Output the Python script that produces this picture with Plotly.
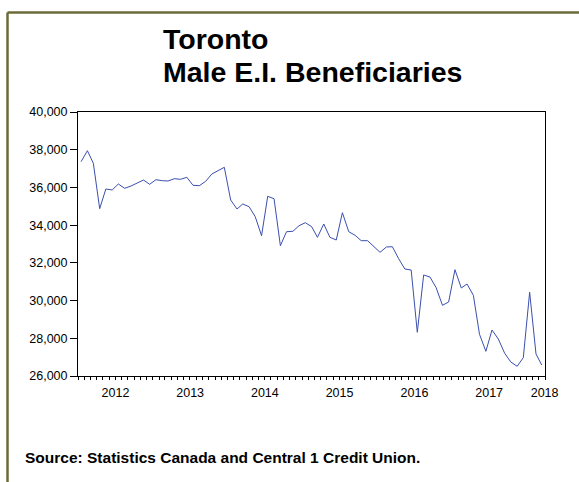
import pandas as pd
import plotly.graph_objects as go

# Monthly series, Jan 2012 - Mar 2018
start_month = "2012-01-01"
values = [
    37365, 37948, 37280, 34872, 35917, 35864, 36182, 35954, 36076, 36235, 36394, 36166,
    36410, 36357, 36341, 36463, 36431, 36537, 36113, 36092, 36325, 36712, 36871, 37067,
    35333, 34856, 35121, 34978, 34448, 33440, 35529, 35402, 32910, 33652, 33673, 33970,
    34130, 33917, 33355, 34060, 33355, 33212, 34660, 33652, 33461, 33175, 33175, 32857,
    32560, 32841, 32857, 32220, 31674, 31621, 28317, 31356, 31250, 30683, 29749, 29924,
    31637, 30667, 30879, 30280, 28211, 27310, 28439, 27962, 27204, 26742, 26514, 26970,
    30439, 27167, 26583,
]
dates = pd.date_range(start_month, periods=len(values), freq="MS") + pd.Timedelta(days=15)

year_starts = ["2012-01-01", "2013-01-01", "2014-01-01", "2015-01-01", "2016-01-01",
               "2017-01-01", "2018-01-01"]
year_label_pos = ["2012-07-02", "2013-07-02", "2014-07-02", "2015-07-02", "2016-07-02",
                  "2017-07-02", "2018-03-30"]
year_labels = ["2012", "2013", "2014", "2015", "2016", "2017", "2018"]
y_ticks = [26000, 28000, 30000, 32000, 34000, 36000, 38000, 40000]
x_range = ["2012-01-01", "2018-04-01"]

title_line1 = "Toronto"
title_line2 = "Male E.I. Beneficiaries"
source_text = "Source: Statistics Canada and Central 1 Credit Union."

FONT = "Liberation Sans, Arial, sans-serif"
W, H = 579, 482
L, R, T, B = 78, 34, 112, 106
pw, ph = W - L - R, H - T - B

def px_x(x):
    return (x - L) / pw

def px_y(y):
    return (H - B - y) / ph

fig = go.Figure()
fig.add_trace(go.Scatter(
    x=dates, y=values, mode="lines",
    line=dict(color="#3B4FAE", width=1),
    hoverinfo="skip", showlegend=False,
))

fig.update_layout(
    width=W, height=H,
    margin=dict(l=L, r=R, t=T, b=B, pad=0),
    paper_bgcolor="white", plot_bgcolor="white",
    font=dict(family=FONT, color="black", size=12),
    showlegend=False,
    xaxis=dict(
        type="date", range=x_range,
        showgrid=False, zeroline=False,
        showline=True, linecolor="black", linewidth=1, mirror=True,
        tickmode="array", tickvals=year_starts, ticktext=[""] * len(year_starts),
        ticks="outside", ticklen=5, tickwidth=1, tickcolor="black",
        showticklabels=False,
        minor=dict(dtick="M1", tick0="2012-01-01", ticks="outside", ticklen=3,
                   tickwidth=1, tickcolor="black", showgrid=False),
    ),
    xaxis2=dict(
        type="date", range=x_range, overlaying="x", anchor="y", side="bottom",
        showgrid=False, zeroline=False, showline=False,
        tickmode="array", tickvals=year_label_pos, ticktext=year_labels,
        ticks="outside", ticklen=5, tickcolor="rgba(0,0,0,0)",
        tickfont=dict(family=FONT, size=12.5, color="black"),
    ),
    yaxis=dict(
        range=[26000, 40000],
        showgrid=False, zeroline=False,
        showline=True, linecolor="black", linewidth=1, mirror=True,
        tickmode="array", tickvals=y_ticks,
        tickformat=",d",
        ticks="outside", ticklen=7, tickwidth=1, tickcolor="black",
        tickfont=dict(family=FONT, size=12.5, color="black"),
    ),
)

# invisible helper trace so the label axis (xaxis2) is active
fig.add_trace(go.Scatter(x=[x_range[0]], y=[None], xaxis="x2", yaxis="y",
                         mode="markers", marker=dict(opacity=0),
                         hoverinfo="skip", showlegend=False))

olive = "#6B6B3A"
fig.add_shape(type="line", xref="paper", yref="paper",
              x0=px_x(7.5), y0=px_y(12.5), x1=px_x(620), y1=px_y(12.5),
              line=dict(color=olive, width=2.5), layer="above")
fig.add_shape(type="line", xref="paper", yref="paper",
              x0=px_x(7.5), y0=px_y(12.5), x1=px_x(7.5), y1=px_y(520),
              line=dict(color=olive, width=2.5), layer="above")

fig.add_annotation(text=f"<b>{title_line1}</b>", xref="paper", yref="paper",
                   x=px_x(161), y=px_y(38.5), xanchor="left", yanchor="middle",
                   showarrow=False, font=dict(family=FONT, size=28.5, color="black"))
fig.add_annotation(text=f"<b>{title_line2}</b>", xref="paper", yref="paper",
                   x=px_x(161), y=px_y(71.5), xanchor="left", yanchor="middle",
                   showarrow=False, font=dict(family=FONT, size=28.5, color="black"))
fig.add_annotation(text=f"<b>{source_text}</b>", xref="paper", yref="paper",
                   x=px_x(23), y=px_y(457.5), xanchor="left", yanchor="middle",
                   showarrow=False, font=dict(family=FONT, size=15.5, color="black"))

fig.write_html("out.html",
               config={"displayModeBar": False},
               post_script="document.body.style.margin='0px';document.body.style.overflow='hidden';")
